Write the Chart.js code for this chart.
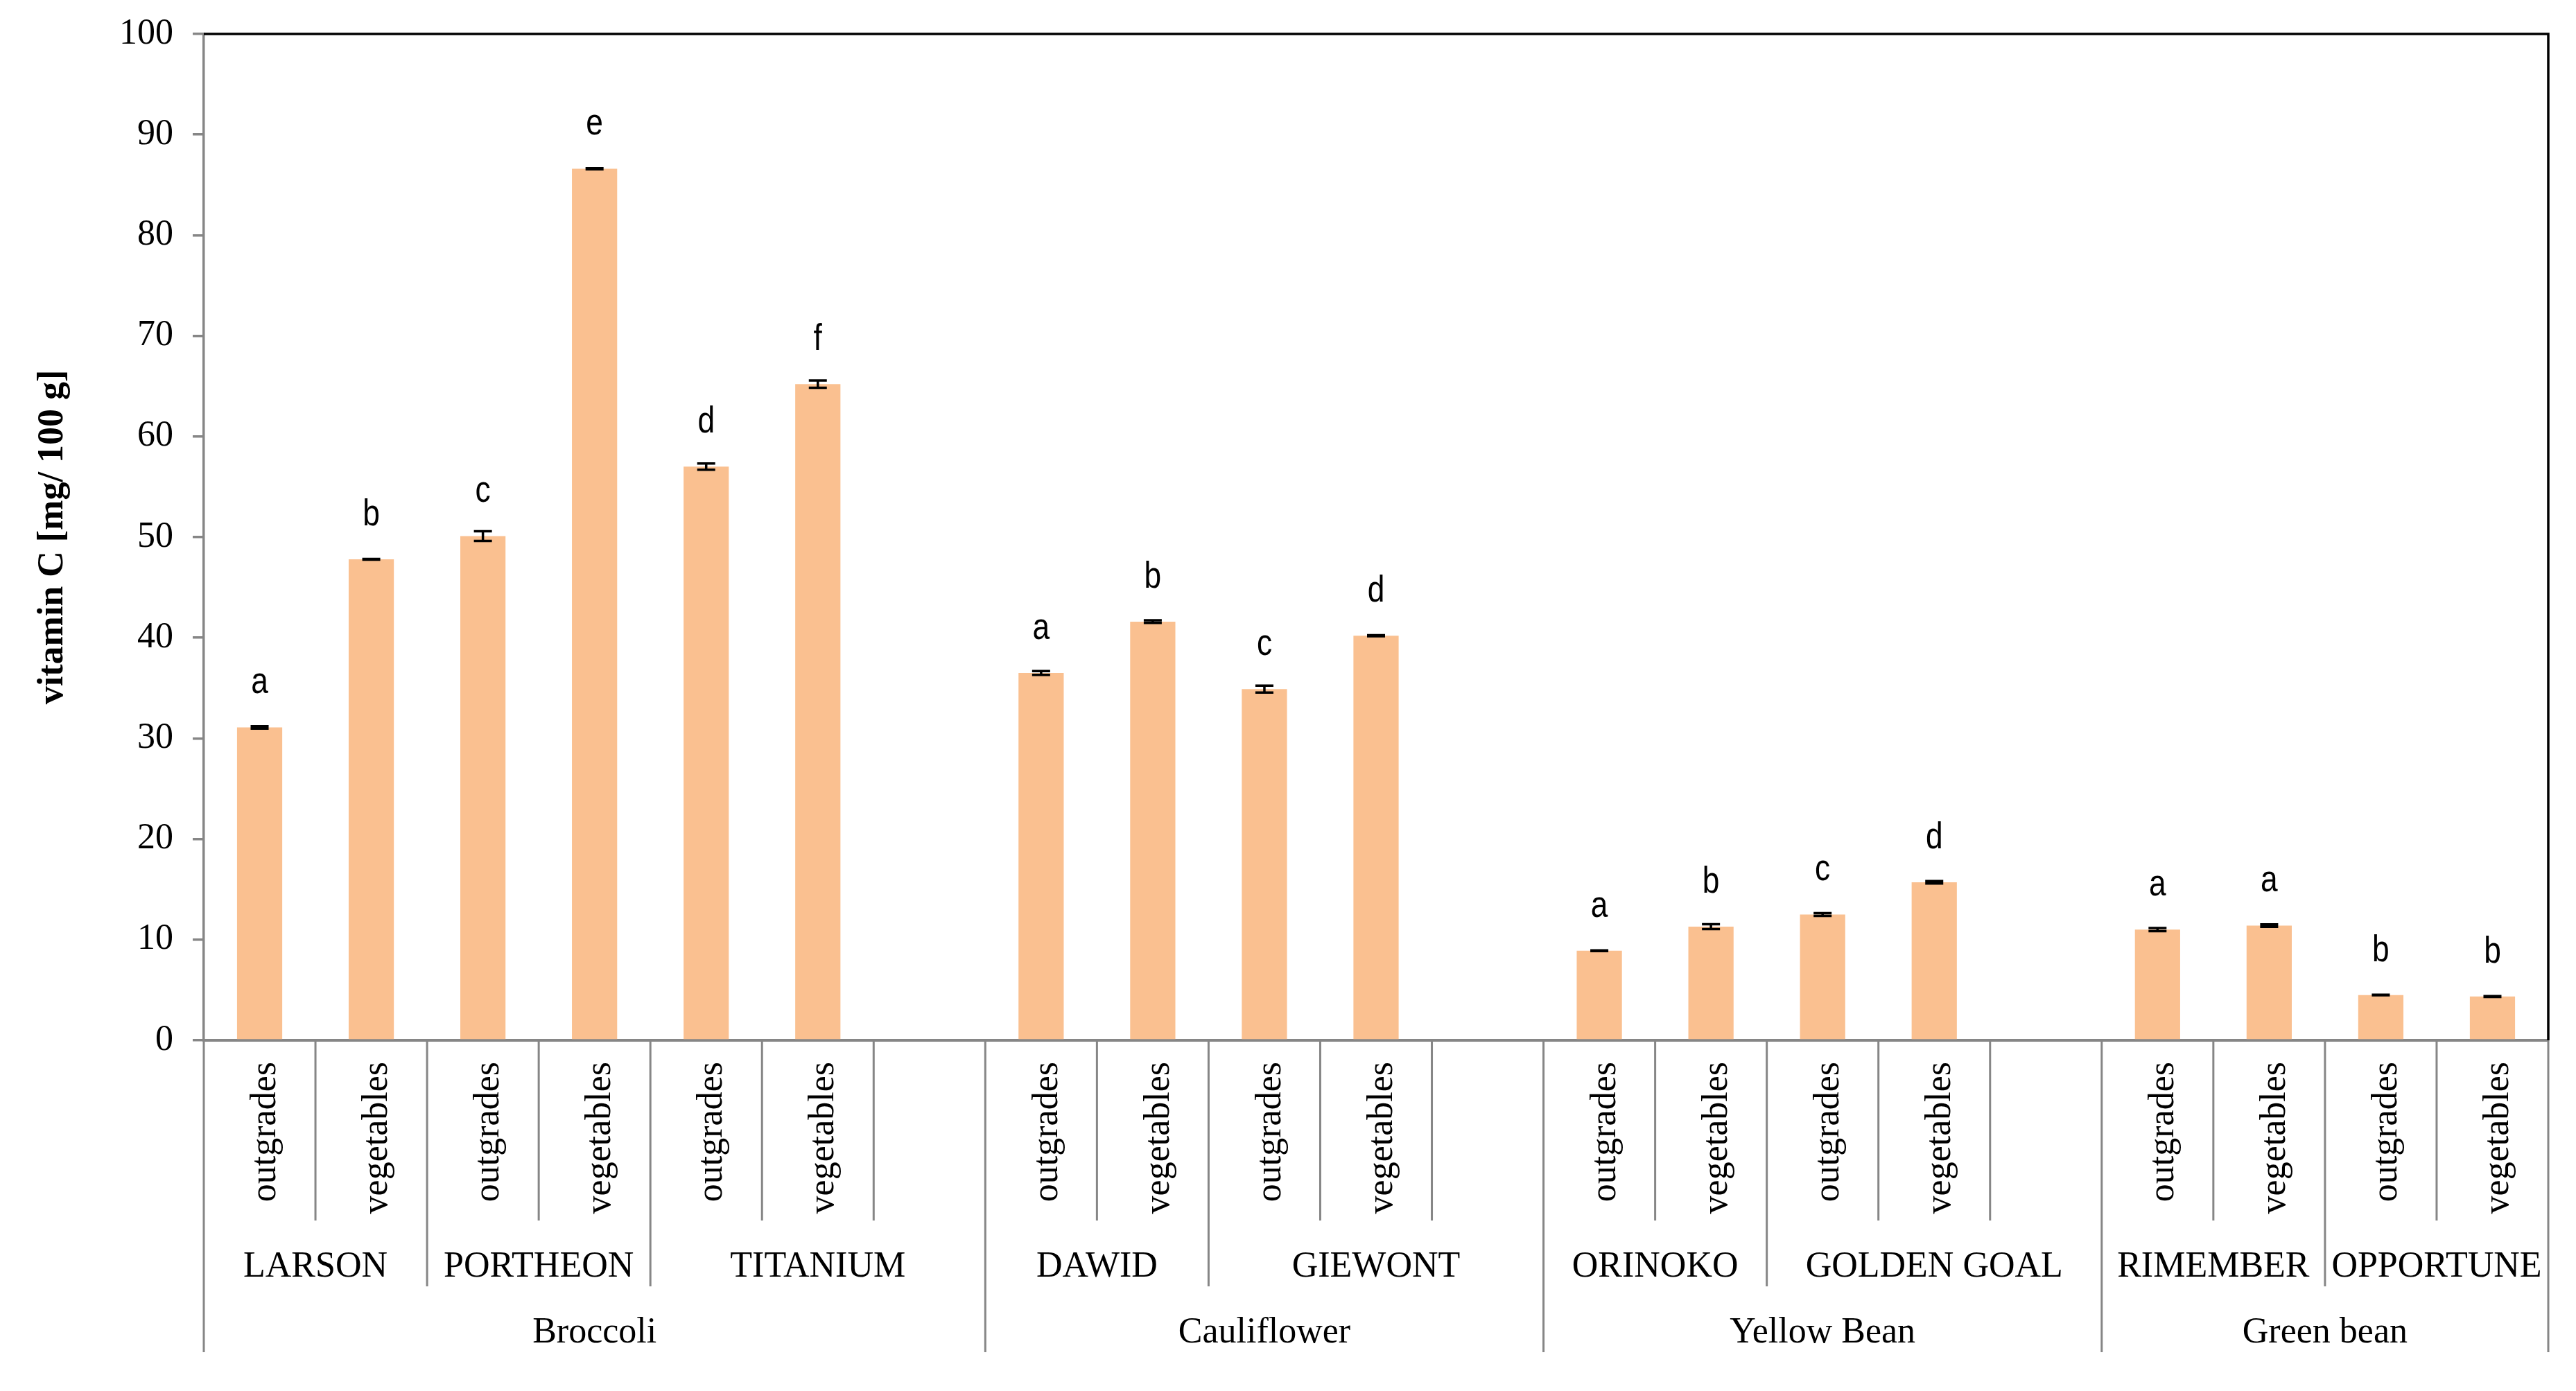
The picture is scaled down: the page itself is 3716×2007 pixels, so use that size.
<!DOCTYPE html>
<html>
<head>
<meta charset="utf-8">
<title>vitamin C in outgrades and vegetables</title>
<script src="https://cdn.jsdelivr.net/npm/chart.js@4.4.0/dist/chart.umd.min.js"></script>
<style>
  html, body { margin: 0; padding: 0; background: #fff; }
  #chart { display: block; }
</style>
</head>
<body>
<canvas id="chart" width="3716" height="2007"></canvas>
<script>
// one entry per slot on the x axis, '' is the empty slot closing a group
const types = [
    'outgrades', 'vegetables', 'outgrades', 'vegetables', 'outgrades', 'vegetables', '',
    'outgrades', 'vegetables', 'outgrades', 'vegetables', '',
    'outgrades', 'vegetables', 'outgrades', 'vegetables', '',
    'outgrades', 'vegetables', 'outgrades', 'vegetables'
];
const vitaminC = [
    31.1, 47.8, 50.1, 86.6, 57.0, 65.2, null,
    36.5, 41.6, 34.9, 40.2, null,
    8.9, 11.3, 12.5, 15.7, null,
    11.0, 11.4, 4.5, 4.35
];
const errors = [
    0.12, 0.03, 0.48, 0.05, 0.31, 0.36, null,
    0.19, 0.13, 0.34, 0.05, null,
    0.03, 0.24, 0.14, 0.12, null,
    0.16, 0.12, 0.03, 0.04
];
const letters = [
    'a', 'b', 'c', 'e', 'd', 'f', '',
    'a', 'b', 'c', 'd', '',
    'a', 'b', 'c', 'd', '',
    'a', 'a', 'b', 'b'
];
const varieties = ['LARSON', 'PORTHEON', 'TITANIUM', 'DAWID', 'GIEWONT', 'ORINOKO', 'GOLDEN GOAL', 'RIMEMBER', 'OPPORTUNE'];
const varietySlots = [2, 2, 3, 2, 3, 2, 3, 2, 2];
const species = ['Broccoli', 'Cauliflower', 'Yellow Bean', 'Green bean'];
const speciesSlots = [7, 5, 5, 4];

const SERIF = '"Liberation Serif", "Times New Roman", serif';
const GREY = '#868686';

function spans(counts) {
    const out = [];
    let acc = 0;
    for (const c of counts) {
        out.push([acc, acc + c]);
        acc += c;
    }
    return out;
}

function slotEdge(xs, k) {
    const w = xs.getPixelForValue(1) - xs.getPixelForValue(0);
    return xs.getPixelForValue(0) - w / 2 + k * w;
}

const decorations = {
    id: 'decorations',
    afterDatasetsDraw(chart) {
        const { ctx } = chart;
        const ys = chart.scales.y;
        const meta = chart.getDatasetMeta(0);

        ctx.save();
        // error bars
        ctx.strokeStyle = '#000';
        ctx.lineWidth = 3.5;
        meta.data.forEach((bar, i) => {
            const v = vitaminC[i];
            if (v == null) return;
            const e = errors[i] || 0;
            const top = ys.getPixelForValue(v + e);
            const bot = ys.getPixelForValue(v - e);
            ctx.beginPath();
            ctx.moveTo(bar.x, top); ctx.lineTo(bar.x, bot);
            ctx.moveTo(bar.x - 13, top); ctx.lineTo(bar.x + 13, top);
            ctx.moveTo(bar.x - 13, bot); ctx.lineTo(bar.x + 13, bot);
            ctx.stroke();
        });

        // significance letters (narrow face like the original; squeeze if the font is wide)
        ctx.fillStyle = '#000';
        ctx.font = '54px "Liberation Sans Narrow", "Liberation Sans", sans-serif';
        ctx.textAlign = 'center';
        ctx.textBaseline = 'middle';
        const squeeze = ctx.measureText('b').width > 27 ? 0.82 : 1;
        meta.data.forEach((bar, i) => {
            if (!letters[i]) return;
            ctx.save();
            ctx.translate(bar.x, ys.getPixelForValue(vitaminC[i]) - 64);
            ctx.scale(squeeze, 1);
            ctx.fillText(letters[i], 0, 0);
            ctx.restore();
        });
        ctx.restore();
    },
    afterDraw(chart) {
        const { ctx, chartArea } = chart;
        const xs = chart.scales.x;
        const bottom = chartArea.bottom;

        ctx.save();
        // black frame on top and right
        ctx.strokeStyle = '#000';
        ctx.lineWidth = 3.5;
        ctx.beginPath();
        ctx.moveTo(chartArea.left, chartArea.top);
        ctx.lineTo(chartArea.right, chartArea.top);
        ctx.lineTo(chartArea.right, bottom);
        ctx.stroke();

        // separators below the axis
        const vEdges = new Set(spans(varietySlots).map(s => s[0]));
        const sEdges = new Set(spans(speciesSlots).map(s => s[0]));
        sEdges.add(types.length);
        ctx.strokeStyle = GREY;
        ctx.lineWidth = 3;
        for (let k = 0; k <= types.length; k++) {
            let len = 260;
            if (sEdges.has(k)) len = 450;
            else if (vEdges.has(k)) len = 355;
            const px = slotEdge(xs, k);
            ctx.beginPath();
            ctx.moveTo(px, bottom);
            ctx.lineTo(px, bottom + len);
            ctx.stroke();
        }

        // group labels
        ctx.fillStyle = '#000';
        ctx.font = '52px ' + SERIF;
        ctx.textAlign = 'center';
        ctx.textBaseline = 'alphabetic';
        spans(varietySlots).forEach(([a, b], i) => {
            ctx.fillText(varieties[i], (slotEdge(xs, a) + slotEdge(xs, b)) / 2, bottom + 341);
        });
        spans(speciesSlots).forEach(([a, b], i) => {
            ctx.fillText(species[i], (slotEdge(xs, a) + slotEdge(xs, b)) / 2, bottom + 436);
        });
        ctx.restore();
    }
};

new Chart(document.getElementById('chart'), {
    type: 'bar',
    data: {
        labels: types,
        datasets: [{
            label: 'vitamin C',
            data: vitaminC,
            backgroundColor: '#FAC090',
            borderWidth: 0,
            categoryPercentage: 1,
            barPercentage: 0.405
        }]
    },
    options: {
        responsive: false,
        animation: false,
        devicePixelRatio: 1,
        layout: { padding: { top: 49, right: 40, left: 0, bottom: 0 } },
        plugins: {
            legend: { display: false },
            tooltip: { enabled: false }
        },
        scales: {
            x: {
                grid: { display: false, drawTicks: false },
                border: { display: true, color: GREY, width: 4 },
                ticks: {
                    autoSkip: false,
                    minRotation: 90,
                    maxRotation: 90,
                    padding: 31,
                    labelOffset: 9,
                    color: '#000',
                    font: { family: SERIF, size: 52 }
                },
                afterFit(scale) { scale.height = 506; }
            },
            y: {
                min: 0,
                max: 100,
                grid: {
                    drawOnChartArea: false,
                    drawTicks: true,
                    tickLength: 16,
                    color: GREY,
                    lineWidth: 3.5
                },
                border: { display: true, color: GREY, width: 3.5 },
                ticks: {
                    stepSize: 10,
                    padding: 28,
                    color: '#000',
                    font: { family: SERIF, size: 52 }
                },
                title: {
                    display: true,
                    text: 'vitamin C [mg/ 100 g]',
                    color: '#000',
                    font: { family: SERIF, size: 52, weight: 'bold' },
                    padding: { top: 45, bottom: 0 }
                },
                afterFit(scale) {
                    scale.width = 294;
                    // the label padding would otherwise push the plot top down
                    scale.paddingTop = 0;
                    scale.paddingBottom = 0;
                }
            }
        }
    },
    plugins: [decorations]
});
</script>
</body>
</html>
